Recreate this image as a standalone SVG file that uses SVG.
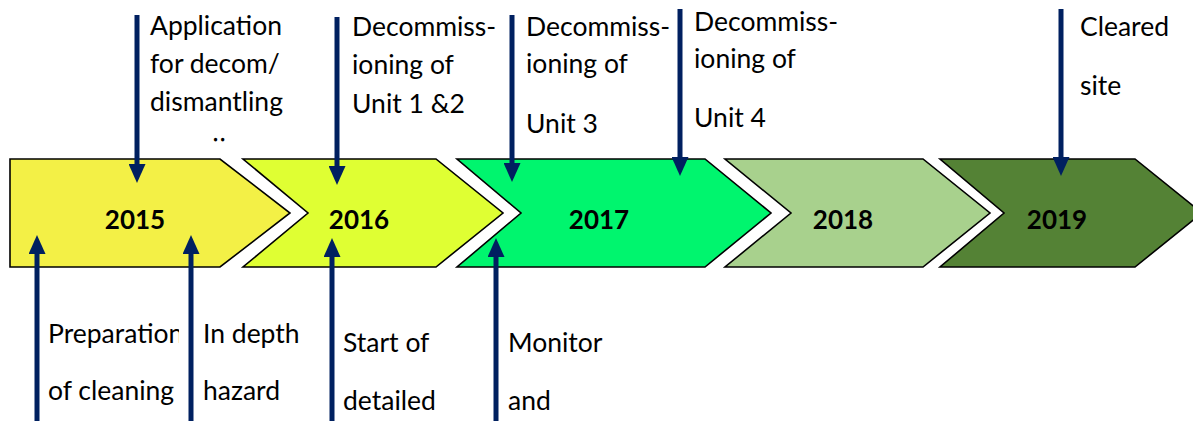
<svg xmlns="http://www.w3.org/2000/svg" width="1193" height="421" viewBox="0 0 1193 421">
  <style>
    .stage { stroke: #000000; stroke-width: 1.6; stroke-linejoin: miter; }
    .year { font-family: Lato, "Liberation Sans", sans-serif; font-weight: bold; font-size: 26px; fill: #000000; text-anchor: middle; }
    .note { font-family: Lato, "Liberation Sans", sans-serif; font-size: 26.5px; fill: #000000; }
    .pointer { stroke: #002060; stroke-width: 5; fill: none; marker-end: url(#head); }
  </style>
  <defs>
    <marker id="head" viewBox="0 0 19 17" refX="0" refY="8.5" markerWidth="19" markerHeight="17" markerUnits="userSpaceOnUse" orient="auto">
      <path d="M0,0 L19,8.5 L0,17 Z" fill="#002060"/>
    </marker>
    <clipPath id="clip-prep">
      <rect x="0" y="300" width="179" height="121"/>
    </clipPath>
  </defs>

  <rect width="1193" height="421" fill="#ffffff"/>

  <!-- timeline stages -->
  <g id="stage-2015">
    <polygon class="stage" fill="#F3F046" points="10,159 220,159 290,213 220,267 10,267"/>
    <text class="year" x="135" y="229">2015</text>
  </g>
  <g id="stage-2016">
    <polygon class="stage" fill="#DFFF33" points="243,159 436,159 503,213 436,267 243,267 308,213"/>
    <text class="year" x="359" y="229">2016</text>
  </g>
  <g id="stage-2017">
    <polygon class="stage" fill="#00F56E" points="457,159 705,159 771,213 705,267 457,267 521,213"/>
    <text class="year" x="599" y="229">2017</text>
  </g>
  <g id="stage-2018">
    <polygon class="stage" fill="#A8D18D" points="725,159 923,159 990,213 923,267 725,267 791,213"/>
    <text class="year" x="843" y="229">2018</text>
  </g>
  <g id="stage-2019">
    <polygon class="stage" fill="#548235" points="940,159 1135,159 1202,213 1135,267 940,267 1004,213"/>
    <text class="year" x="1057" y="229">2019</text>
  </g>

  <!-- milestone pointers -->
  <g id="connectors">
    <line class="pointer" x1="137" y1="15" x2="137" y2="164"/>
    <line class="pointer" x1="337" y1="17" x2="337" y2="166"/>
    <line class="pointer" x1="512" y1="15" x2="512" y2="163"/>
    <line class="pointer" x1="680" y1="9" x2="680" y2="157"/>
    <line class="pointer" x1="1061" y1="9" x2="1061" y2="157"/>
    <line class="pointer" x1="37" y1="421" x2="37" y2="254"/>
    <line class="pointer" x1="191" y1="421" x2="191" y2="254"/>
    <line class="pointer" x1="332" y1="421" x2="332" y2="257"/>
    <line class="pointer" x1="496" y1="421" x2="496" y2="257"/>
  </g>

  <!-- milestone labels above -->
  <g id="label-application">
    <text class="note" x="150" y="35">Application</text>
    <text class="note" x="150" y="73">for decom/</text>
    <text class="note" x="150" y="111">dismantling</text>
    <text class="note" x="212" y="141">‥</text>
  </g>
  <g id="label-unit12">
    <text class="note" x="352" y="36">Decommiss-</text>
    <text class="note" x="352" y="74">ioning of</text>
    <text class="note" x="352" y="113">Unit 1 &amp;2</text>
  </g>
  <g id="label-unit3">
    <text class="note" x="526" y="36">Decommiss-</text>
    <text class="note" x="526" y="73">ioning of</text>
    <text class="note" x="526" y="133">Unit 3</text>
  </g>
  <g id="label-unit4">
    <text class="note" x="694" y="31">Decommiss-</text>
    <text class="note" x="694" y="68">ioning of</text>
    <text class="note" x="694" y="127">Unit 4</text>
  </g>
  <g id="label-cleared">
    <text class="note" x="1080" y="36">Cleared</text>
    <text class="note" x="1080" y="95">site</text>
  </g>

  <!-- milestone labels below -->
  <g id="label-preparation" clip-path="url(#clip-prep)">
    <text class="note" x="48" y="343">Preparation</text>
    <text class="note" x="48" y="400">of cleaning</text>
  </g>
  <g id="label-hazard">
    <text class="note" x="203" y="343">In depth</text>
    <text class="note" x="203" y="400">hazard</text>
  </g>
  <g id="label-detailed">
    <text class="note" x="343" y="352">Start of</text>
    <text class="note" x="343" y="410">detailed</text>
  </g>
  <g id="label-monitor">
    <text class="note" x="508" y="352">Monitor</text>
    <text class="note" x="508" y="410">and</text>
  </g>
</svg>
